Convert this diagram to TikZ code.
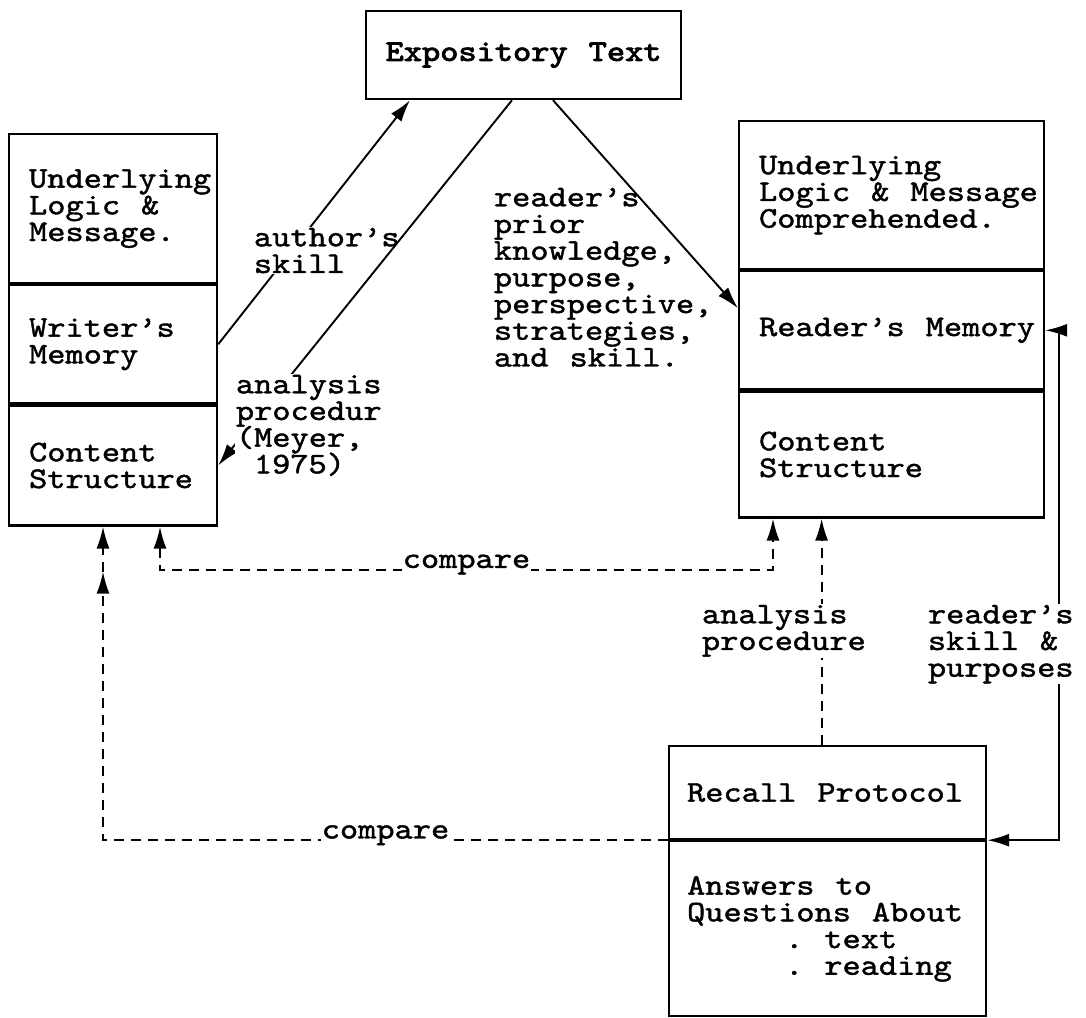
\documentclass[tikz,border=0pt]{standalone}
\usepackage{fontspec}
\newfontfamily\typew{lmmono10-regular.otf}[FakeStretch = 1.156, FakeBold = 1.4, WordSpace = {1.156, 0, 0}]
\newfontfamily\typewb{lmmono10-regular.otf}[FakeStretch = 1.156, FakeBold = 3, WordSpace = {1.156, 0, 0}]
\usetikzlibrary{arrows.meta, decorations.markings}
\lineskiplimit=-100pt
\frenchspacing

\begin{document}
\begin{tikzpicture}[x = 1pt, y = -1pt, line width = 1.9pt,
    > = {Latex[length = 22pt, width = 13pt]},
    every node/.style = {font = \typew\fontsize{30}{26.7}\selectfont},
    sect/.style = {shape = rectangle, draw, line width = 2.2pt, anchor = north west,
        inner xsep = 20pt, inner ysep = 2pt, align = flush left},
    lab/.style = {align = left, anchor = north west, inner sep = 1pt},
    dashline/.style = {dash pattern = on 10pt off 7pt}]
    \useasboundingbox (0,0) rectangle (1086,1017);

    \node[draw, line width = 2.2pt, anchor = north west, minimum width = 315pt, minimum height = 88pt,
        font = \typewb\fontsize{30}{26.7}\selectfont] (expo) at (365,10) {Expository Text};

    \node[sect, text width = 168pt, minimum height = 149pt] (wlogic) at (8,133) {Underlying\\Logic \&\\Message.};
    \node[sect, text width = 168pt, minimum height = 118pt] (wmem) at (wlogic.south west) {Writer’s\\Memory};
    \node[sect, text width = 168pt, minimum height = 120pt] (wcont) at (wmem.south west) {Content\\Structure};

    \node[sect, text width = 265pt, minimum height = 148pt] (rlogic) at (738,120) {Underlying\\\mbox{Logic \& Message}\\Comprehended.};
    \node[sect, text width = 265pt, minimum height = 118pt] (rmem) at (rlogic.south west) {\mbox{Reader’s Memory}};
    \node[sect, text width = 265pt, minimum height = 126pt] (rcont) at (rmem.south west) {Content\\Structure};

    \node[sect, inner xsep = 18pt, text width = 281pt, minimum height = 93pt] (recall) at (668,745) {Recall Protocol};
    \node[sect, inner xsep = 18pt, text width = 281pt, minimum height = 175pt] (answers) at (recall.south west)
        {Answers to\\Questions About\\\hspace*{98pt}. text\\\hspace*{98pt}. reading};

    \draw[->] (wmem.east) -- ([xshift = 45pt]expo.south west);
    \node[lab, fill = white] (askill) at (252,226) {author’s\\skill};
    \draw[->] ([xshift = 147pt]expo.south west) -- (wcont.east);
    \node[lab, fill = white] (meyer) at (234,373) {analysis\\procedur\\(Meyer,\\\hspace*{18pt}1975)};
    \draw[->] ([xshift = 188pt]expo.south west) -- ([yshift = 22pt]rmem.west);
    \node[lab] (rprior) at (492,186) {reader’s\\prior\\knowledge,\\purpose,\\perspective,\\strategies,\\and skill.};

    \draw[<->, dashline] ([xshift = 152pt]wcont.south west) -- ++(0,43)
        -| node[pos = 0.25, yshift = 5pt, fill = white, inner sep = 1pt] (cmptop) {compare} ([xshift = 35pt]rcont.south west);
    \draw[->, dashline, postaction = {decorate},
        decoration = {markings, mark = at position -45pt with {\arrow{>}}}]
        (recall.south west) -| node[pos = 0.25, yshift = 5pt, fill = white, inner sep = 1pt] (cmpbot) {compare} ([xshift = 95pt]wcont.south west);

    \draw[->, dashline] ([xshift = -6pt]recall.north) -- ([xshift = -6pt]recall.north |- rcont.south);
    \node[lab, fill = white] (anproc) at (700,603) {analysis\\procedure};
    \draw[<->] (rmem.east) -- ++(14,0) |- (recall.south east);
    \node[lab, fill = white] (rskill) at (926,603) {reader’s\\skill \&\\purposes};
\end{tikzpicture}
\end{document}
